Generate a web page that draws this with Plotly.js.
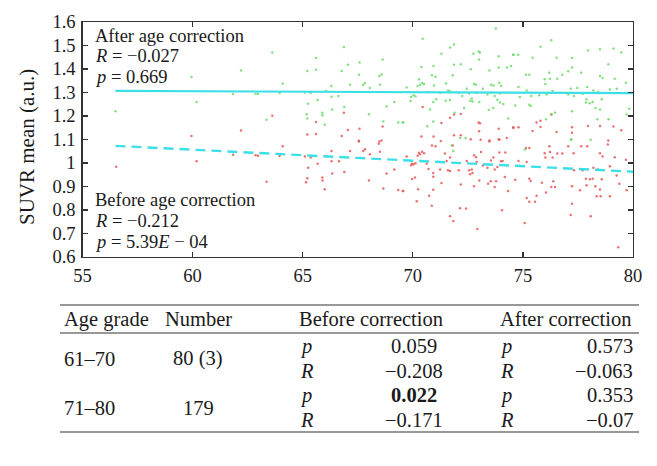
<!DOCTYPE html>
<html>
<head>
<meta charset="utf-8">
<script src="https://cdn.plot.ly/plotly-3.0.1.min.js"></script>
<style>html,body{margin:0;padding:0;background:#fff}#chart{width:657px;height:466px}</style>
</head>
<body>
<div id="chart"></div>
<script>
// ---------- scatter data: before age correction (red) ----------
const ageBefore = [56.53,59.95,60.18,62.2,61.84,62.86,62.97,63.36,63.62,64.09,63.95,
66.87,65.6,68.63,65.21,65.6,67.05,67.58,66.77,67.55,68.58,
68.48,67.55,68.46,67.83,67.75,67.15,66.31,68.05,68.51,66.06,65.1,65.36,66.31,66.65,65.68,65.25,69.16,68.81,66.89,66.34,65.89,65.9,65.21,65.15,68.01,68.66,66.0,69.34,69.57,
70.45,71.87,71.69,72.18,71.3,72.99,73.05,73.9,74.57,71.87,72.18,70.94,70.39,72.63,73.01,73.48,73.9,74.27,
70.87,71.03,71.27,71.81,73.08,73.48,73.93,71.46,70.28,70.42,70.51,70.33,70.22,71.69,71.54,72.78,72.87,73.1,73.55,73.66,73.93,74.2,74.01,74.08,69.72,69.97,70.03,70.12,69.92,70.63,73.18,72.45,71.6,71.69,70.71,71.24,72.09,72.56,72.9,73.39,73.72,72.68,72.71,72.6,73.02,73.84,70.93,70.93,70.1,69.97,74.18,73.42,73.54,73.78,72.18,71.3,72.78,73.72,69.54,70.24,70.93,74.33,70.74,70.18,70.86,72.15,72.42,74.05,71.69,71.84,72.93,
74.56,74.8,75.8,75.62,76.29,75.44,75.8,76.53,77.23,77.23,77.96,78.5,79.11,79.47,78.88,
76.2,75.14,75.29,75.99,76.23,76.56,76.79,77.06,77.65,77.3,78.5,78.62,78.86,77.92,79.17,79.68,74.8,76.35,76.02,75.17,77.32,77.71,78.2,78.41,78.95,79.26,77.86,78.04,78.17,77.89,78.58,74.65,75.29,75.35,75.86,76.38,76.29,76.46,77.23,77.59,78.29,78.5,79.38,79.71,78.35,78.53,78.95,75.62,75.17,75.29,75.55,76.05,77.23,77.17,78.08,75.08,79.33];
const suvrBefore = [0.984,1.115,1.007,1.138,1.035,1.033,1.031,0.92,1.201,1.071,1.03,
1.214,1.174,1.155,1.121,1.123,1.14,1.146,1.115,1.095,1.096,
1.092,1.092,1.082,1.058,1.051,1.051,1.051,1.037,1.048,1.03,1.028,1.023,1.007,1.007,0.997,0.98,0.972,0.955,0.962,0.955,0.938,0.926,0.935,0.918,0.926,0.892,0.888,0.885,0.881,
1.238,1.206,1.193,1.209,1.17,1.172,1.169,1.146,1.149,1.118,1.118,1.113,1.113,1.101,1.135,1.096,1.101,1.106,
1.075,1.071,1.094,1.075,1.099,1.091,1.099,1.04,1.044,1.048,1.042,1.037,1.031,1.023,1.008,1.033,1.025,1.047,1.011,1.023,1.045,1.045,1.007,1.008,1.028,0.997,0.994,0.999,0.99,0.997,0.989,1.008,0.969,0.966,0.974,0.972,0.969,0.969,1.004,0.98,0.972,0.972,0.957,0.952,0.926,0.983,0.957,0.941,0.938,0.932,0.94,0.912,0.922,0.922,0.909,0.915,0.901,0.898,0.881,0.888,0.886,0.881,0.861,0.837,0.818,0.807,0.806,0.799,0.773,0.753,0.719,
1.152,1.152,1.18,1.172,1.206,1.136,1.153,1.132,1.129,1.152,1.157,1.157,1.155,1.139,1.096,
1.071,1.064,1.064,1.042,1.047,1.04,1.04,1.071,1.071,1.042,1.042,1.028,1.079,1.071,1.025,1.014,1.008,1.023,1.023,1.004,0.969,0.969,0.98,0.972,0.986,0.947,0.933,0.931,0.933,0.905,0.931,0.929,0.933,0.923,0.916,0.922,0.898,0.898,0.901,0.884,0.901,0.887,0.912,0.884,0.858,0.858,0.858,0.861,0.851,0.835,0.835,0.875,0.827,0.779,0.773,0.745,0.642];

// ---------- scatter data: after age correction (green) ----------
const ageAfter = [56.5,59.95,60.18,62.2,61.84,62.86,62.97,63.62,63.36,64.09,63.95,
66.87,65.6,65.21,65.6,67.05,67.58,68.63,66.77,67.55,68.58,68.48,67.83,67.75,67.15,68.51,66.3,68.05,66.06,65.1,65.36,66.31,66.62,65.68,65.25,69.16,68.81,66.89,66.34,65.89,65.9,65.18,65.21,68.01,68.66,66.0,69.34,69.57,
73.77,70.45,71.87,71.69,71.3,72.99,73.05,72.75,73.9,74.57,73.01,71.87,72.18,70.94,70.39,72.63,73.9,74.27,73.48,70.87,71.03,71.81,70.28,70.42,70.51,70.33,70.22,70.96,71.51,72.78,72.87,73.55,73.66,73.93,74.01,69.72,73.18,72.45,71.6,71.69,70.71,71.24,72.09,72.56,72.9,73.58,73.96,70.03,70.12,69.92,72.24,73.39,73.72,72.68,72.71,72.6,73.02,73.84,71.06,71.49,71.69,70.93,69.9,73.96,70.78,73.45,73.66,74.11,71.9,74.34,70.66,69.54,70.93,72.33,71.77,71.84,72.15,72.4,
76.29,75.8,74.56,74.79,75.44,76.53,77.23,77.96,78.5,79.11,79.47,78.88,74.46,77.23,77.06,77.65,76.2,75.14,75.29,76.79,78.5,78.62,76.56,76.23,75.99,76.02,79.17,79.68,74.8,75.17,76.35,77.17,77.47,77.92,78.2,78.41,78.95,79.26,77.71,77.06,76.08,75.74,74.86,75.38,77.32,77.86,78.04,78.17,77.89,78.58,74.65,75.29,75.35,77.23,76.46,76.3,78.29,78.5,78.89,78.38,79.71,79.83,76.05,77.2,77.18,78.08,75.09];
const suvrAfter = [1.22,1.366,1.26,1.394,1.294,1.295,1.294,1.47,1.184,1.338,1.298,
1.494,1.447,1.391,1.397,1.418,1.428,1.44,1.391,1.376,1.377,1.37,1.34,1.333,1.333,1.333,1.328,1.319,1.306,1.3,1.298,1.282,1.285,1.268,1.252,1.26,1.24,1.238,1.228,1.214,1.203,1.207,1.189,1.207,1.177,1.163,1.172,1.172,
1.572,1.529,1.504,1.491,1.465,1.475,1.47,1.465,1.454,1.461,1.44,1.418,1.42,1.413,1.409,1.399,1.406,1.406,1.394,1.373,1.367,1.373,1.356,1.34,1.336,1.333,1.328,1.33,1.338,1.336,1.333,1.333,1.33,1.342,1.328,1.321,1.316,1.316,1.309,1.305,1.302,1.299,1.298,1.296,1.298,1.299,1.296,1.288,1.284,1.281,1.285,1.291,1.285,1.274,1.262,1.265,1.26,1.269,1.271,1.265,1.268,1.26,1.264,1.257,1.228,1.226,1.234,1.251,1.214,1.189,1.156,1.172,1.177,1.234,1.075,1.051,1.106,1.106,
1.522,1.495,1.461,1.461,1.448,1.448,1.447,1.479,1.484,1.487,1.47,1.42,1.413,1.406,1.39,1.384,1.384,1.376,1.376,1.376,1.37,1.362,1.359,1.359,1.356,1.336,1.359,1.342,1.323,1.309,1.306,1.316,1.319,1.323,1.309,1.302,1.313,1.316,1.295,1.291,1.291,1.288,1.281,1.285,1.285,1.257,1.254,1.26,1.271,1.271,1.245,1.248,1.243,1.22,1.214,1.206,1.234,1.228,1.186,1.186,1.206,1.231,1.186,1.101,1.099,1.099,1.057];

// ---------- regression fits ----------
const fitAge = [56.5, 80];
const fitAfter = [1.307, 1.297];
const fitBefore = [1.073, 0.963];

// ---------- axis ticks ----------
const xTicks = [55, 60, 65, 70, 75, 80];
const yTicks = [0.6, 0.7, 0.8, 0.9, 1.0, 1.1, 1.2, 1.3, 1.4, 1.5, 1.6];
const yTickText = ['0.6','0.7','0.8','0.9','1','1.1','1.2','1.3','1.4','1.5','1.6'];
const yTitle = 'SUVR mean (a.u.)';

// ---------- stats text ----------
const afterLabel = ['After age correction', '<i>R</i> = −0.027', '<i>p</i> = 0.669'];
const beforeLabel = ['Before age correction', '<i>R</i> = −0.212', '<i>p</i> = 5.39<i>E</i> − 04'];

// ---------- table data ----------
const tableHeader = ['Age grade', 'Number', 'Before correction', 'After correction'];
const ageGrades = ['61–70', '71–80'];
const numbers = ['80 (3)', '179'];
const beforeP = ['0.059', '0.022'];
const beforeR = ['−0.208', '−0.171'];
const afterP = ['0.573', '0.353'];
const afterR = ['−0.063', '−0.07'];

const W = 657, H = 466;
const FONT = 'Liberation Serif, Times New Roman, serif';
const TXT = '#1a1a1a';
const pxX = x => x / W;
const pxY = y => 1 - y / H;

const traces = [
  {x: ageBefore, y: suvrBefore, type: 'scatter', mode: 'markers',
   marker: {color: 'rgb(228,80,80)', size: 2.5, opacity: 0.8}, hoverinfo: 'skip'},
  {x: ageAfter, y: suvrAfter, type: 'scatter', mode: 'markers',
   marker: {color: 'rgb(100,218,100)', size: 2.5, opacity: 0.8}, hoverinfo: 'skip'},
  {x: fitAge, y: fitAfter, type: 'scatter', mode: 'lines',
   line: {color: '#3ddfe6', width: 2.2}},
  {x: fitAge, y: fitBefore, type: 'scatter', mode: 'lines',
   line: {color: '#3ddfe6', width: 2.4, dash: '10px,6px'}}
];

const annotations = [];
function addText(text, x, y, xanchor, size, extra) {
  annotations.push(Object.assign({
    text: text, xref: 'paper', yref: 'paper', x: pxX(x), y: pxY(y),
    xanchor: xanchor, yanchor: 'middle', showarrow: false,
    font: {family: FONT, size: size, color: TXT}
  }, extra || {}));
}
// y-axis title
addText(yTitle, 27, 147, 'center', 21, {textangle: -90});
// in-plot stats
afterLabel.forEach((t, i) => addText(t, 93, 36 + i * 20.5, 'left', 18.5));
beforeLabel.forEach((t, i) => addText(t, 93, 200 + i * 21, 'left', 18.5));

// table header
const TS = 20.5;
const headerX = [62, 198, 297, 498];
const headerAnchor = ['left', 'center', 'left', 'left'];
tableHeader.forEach((t, i) => addText(t, headerX[i], 319, headerAnchor[i], TS));

// table rows
const rowTop = [346, 395];
const rowGap = 25;
ageGrades.forEach((g, i) => {
  const yP = rowTop[i], yR = rowTop[i] + rowGap, yMid = (yP + yR) / 2;
  addText(g, 62, yMid, 'left', TS);
  addText(numbers[i], 198, yMid, 'center', TS);
  addText('<i>p</i>', 298, yP, 'left', TS);
  addText('<i>R</i>', 298, yR, 'left', TS);
  const bp = parseFloat(beforeP[i]) < 0.05 ? '<b>' + beforeP[i] + '</b>' : beforeP[i];
  addText(bp, 414, yP, 'center', TS);
  addText(beforeR[i], 414, yR, 'center', TS);
  addText('<i>p</i>', 498, yP, 'left', TS);
  addText('<i>R</i>', 498, yR, 'left', TS);
  addText(afterP[i], 635, yP, 'right', TS);
  addText(afterR[i], 635, yR, 'right', TS);
});

const rule = y => ({type: 'line', xref: 'paper', yref: 'paper',
  x0: pxX(60), x1: pxX(639), y0: pxY(y), y1: pxY(y),
  line: {color: '#333', width: 1.2}});
const shapes = [rule(305), rule(333), rule(432)];

const axisCommon = {
  showline: true, linecolor: '#333', linewidth: 1.3, mirror: 'ticks',
  ticks: 'inside', ticklen: 5, tickwidth: 1.2, tickcolor: '#333',
  showgrid: false, zeroline: false,
  tickfont: {family: FONT, size: 18.5, color: TXT}
};

const layout = {
  width: W, height: H,
  margin: {l: 0, r: 0, t: 0, b: 0},
  paper_bgcolor: '#fff', plot_bgcolor: '#fff',
  showlegend: false,
  xaxis: Object.assign({}, axisCommon, {
    domain: [pxX(82.5), pxX(633)], range: [55, 80],
    tickvals: xTicks, ticklabelstandoff: 1
  }),
  yaxis: Object.assign({}, axisCommon, {
    domain: [pxY(257), pxY(22)], range: [0.6, 1.6],
    tickvals: yTicks, ticktext: yTickText, ticklabelstandoff: 2
  }),
  annotations: annotations,
  shapes: shapes
};

Plotly.newPlot('chart', traces, layout, {staticPlot: true, displayModeBar: false});
</script>
</body>
</html>
